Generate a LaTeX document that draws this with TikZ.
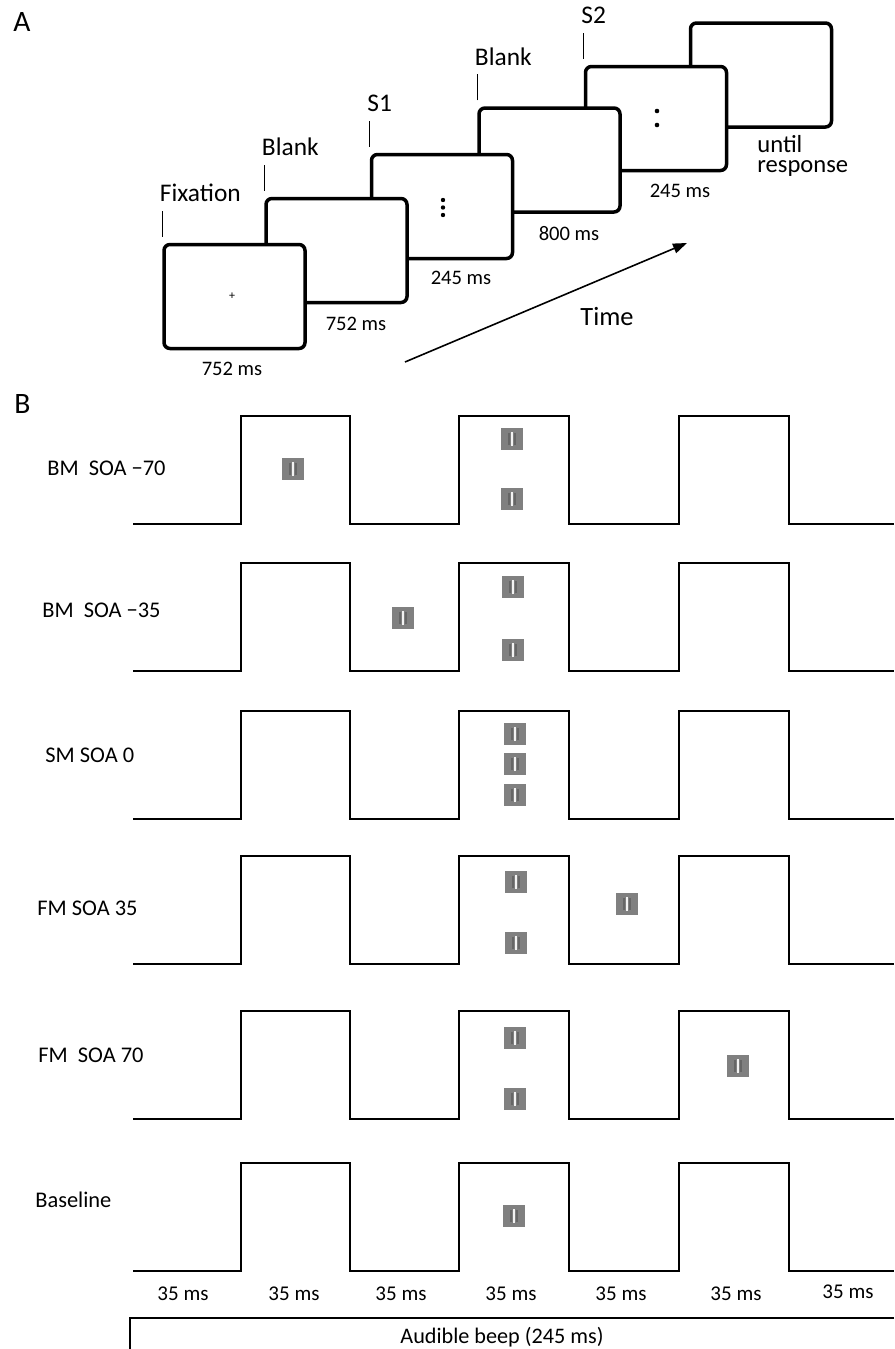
\documentclass[tikz,border=0pt]{standalone}
\usepackage{fontspec}
\setmainfont{Carlito}
\usetikzlibrary{arrows.meta,positioning}

\begin{document}
\begin{tikzpicture}[
  x=0.5pt, y=-0.5pt,
  screen/.style={draw, line width=1.75pt, rounded corners=3pt, fill=white,
                 minimum width=70.5pt, minimum height=52pt, inner sep=0pt},
  tick/.style={line width=0.7pt},
  stage/.style={font=\fontsize{12.7}{14}\selectfont, inner sep=0pt,
                anchor=base west, shift={(-1.5pt,4.5pt)}},
  dur/.style={font=\fontsize{10.3}{12}\selectfont, inner sep=0pt, anchor=base},
  arr/.style={-{Triangle[length=7pt, width=5pt]}, line width=0.8pt},
  tag/.style={font=\fontsize{14.8}{17}\selectfont, inner sep=0pt, anchor=base west},
  cond/.style={font=\fontsize{11.2}{13}\selectfont, inner sep=0pt, anchor=base west},
  slot/.style={font=\fontsize{10.5}{12}\selectfont, inner sep=0pt, anchor=base},
  patch/.style={fill=gray, minimum size=11pt, inner sep=0pt,
    path picture={
      \begin{scope}[shift={(path picture bounding box.center)}]
        \draw[black!60, line width=0.8pt] (-1.5pt,-3pt) -- (-1.5pt,3pt)
                                          (1.5pt,-3pt) -- (1.5pt,3pt);
        \draw[white!90!gray, line width=0.7pt] (0pt,-3.5pt) -- (0pt,3.5pt);
      \end{scope}}},
  wave/.pic={
    \draw[line width=0.9pt] (133,0) -| (241,-108) -| (350,0) -| (459,-108)
      -| (569,0) -| (679,-108) -| (789,0) -- (894,0);},
]
\useasboundingbox (0,0) rectangle (894,1349);

%% --- Panel A: screens (back to front) ---
\node[tag] (tagA) at (13,32) {A};

\node[screen] (resp)   at (761,75)    {};
\node[screen] (s2)     at (656,118.5) {};
\node[screen] (blank2) at (549.5,160) {};
\node[screen] (s1)     at (442,206.5) {};
\node[screen] (blank1) at (336.5,250.5) {};
\node[screen] (fix)    at (234.5,296.5) {};

% screen contents
\node[font=\fontsize{6}{6}\selectfont, inner sep=0pt] (cross) at (232,296) {+};
\fill (443,200) circle (1.1pt) (443,207.5) circle (1.1pt) (443,215) circle (1.1pt);
\fill (657,111) circle (1.15pt) (657,125) circle (1.15pt);

%% --- Stage ticks and names ---
\draw[tick] ([yshift=3pt]fix.north west) -- ++(0,-26)
  node[stage] (lfix) {Fixation};
\draw[tick] ([yshift=3pt]blank1.north west) -- ++(0,-26)
  node[stage] (lblank1) {Blank};
\draw[tick] ([yshift=3pt]s1.north west) -- ++(0,-26)
  node[stage] (ls1) {S1};
\draw[tick] ([yshift=3pt]blank2.north west) -- ++(0,-26)
  node[stage] (lblank2) {Blank};
\draw[tick] ([yshift=3pt]s2.north west) -- ++(0,-26)
  node[stage] (ls2) {S2};

%% --- Durations ---
\node[dur] (dfix)    at (232,375) {752 ms};
\node[dur] (dblank1) at (356,330) {752 ms};
\node[dur] (ds1)     at (461,284) {245 ms};
\node[dur] (dblank2) at (569,240) {800 ms};
\node[dur] (ds2)     at (680,197) {245 ms};
\node[font=\fontsize{12.3}{9.6}\selectfont, inner sep=0pt, anchor=base west,
      align=left] (dresp) at (757,172) {until\\response};

%% --- Time arrow ---
\coordinate (t0) at (405,362);
\coordinate (t1) at (687,243);
\draw[arr] (t0) -- (t1);
\node[font=\fontsize{13.2}{15}\selectfont, inner sep=0pt, anchor=base]
  (time) at (607,325) {Time};

%% --- Panel B: flicker trains ---
\node[tag] (tagB) at (14,413) {B};

\pic at (0,524)  {wave};
\pic at (0,671)  {wave};
\pic at (0,819)  {wave};
\pic at (0,964)  {wave};
\pic at (0,1119) {wave};
\pic at (0,1271) {wave};

\node[cond] (c1) at (47,475)  {BM\ \ SOA −70};
\node[cond] (c2) at (42,617)  {BM\ \ SOA −35};
\node[cond] (c3) at (45,762)  {SM SOA 0};
\node[cond] (c4) at (37,915)  {FM SOA 35};
\node[cond] (c5) at (38,1062) {FM\ \ SOA 70};
\node[cond] (c6) at (35,1207) {Baseline};

% gabor patches
\node[patch] (p1a) at (293,469) {};
\node[patch] (p1b) at (512,439) {};
\node[patch] (p1c) at (512,499) {};

\node[patch] (p2a) at (403,618) {};
\node[patch] (p2b) at (513,587) {};
\node[patch] (p2c) at (513,650) {};

\node[patch] (p3a) at (515,734) {};
\node[patch] (p3b) at (515,764) {};
\node[patch] (p3c) at (515,795) {};

\node[patch] (p4a) at (516,882) {};
\node[patch] (p4b) at (516,943) {};
\node[patch] (p4c) at (627,904) {};

\node[patch] (p5a) at (515,1038) {};
\node[patch] (p5b) at (515,1099) {};
\node[patch] (p5c) at (738,1066) {};

\node[patch] (p6a) at (514,1216) {};

%% --- Time slots and beep ---
\node[slot] (m1) at (183,1300) {35 ms};
\node[slot] (m2) at (294,1300) {35 ms};
\node[slot] (m3) at (401,1300) {35 ms};
\node[slot] (m4) at (511,1300) {35 ms};
\node[slot] (m5) at (621,1300) {35 ms};
\node[slot] (m6) at (736,1300) {35 ms};
\node[slot] (m7) at (848,1298) {35 ms};

\draw[line width=1pt] (894,1318) -- (130,1318) -- (130,1349);
\node[font=\fontsize{11.1}{13}\selectfont, inner sep=0pt, anchor=base]
  (beep) at (502,1343) {Audible beep (245 ms)};

\end{tikzpicture}
\end{document}
